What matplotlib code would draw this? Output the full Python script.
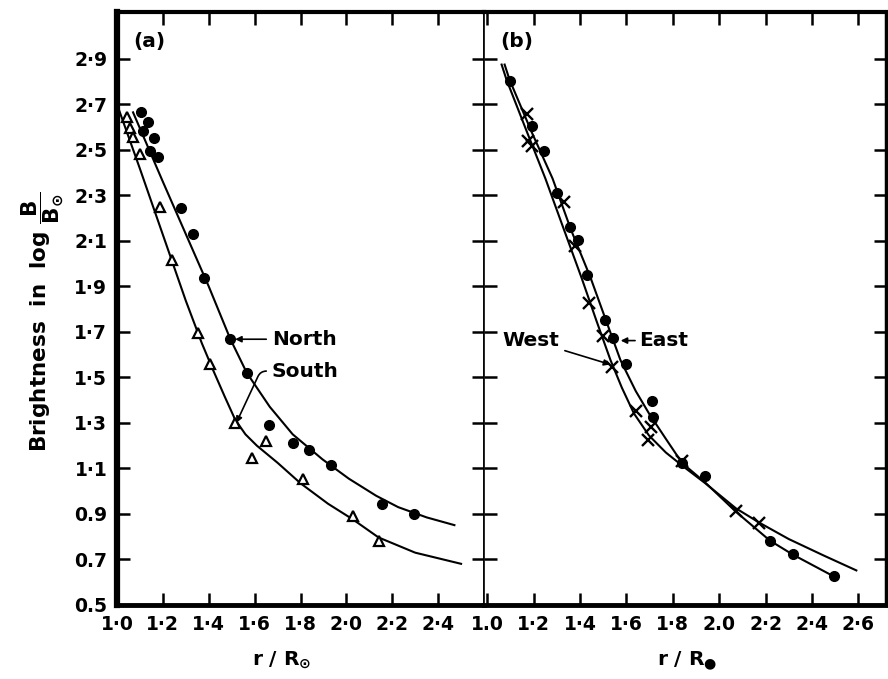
import matplotlib
matplotlib.use("Agg")
import matplotlib.pyplot as plt

plt.rcParams['font.family'] = ['DejaVu Sans']
plt.rcParams['font.weight'] = 'bold'
plt.rcParams['mathtext.fontset'] = 'dejavusans'
plt.rcParams['mathtext.default'] = 'bf'

# ---------------- data: panel (a) ----------------
north_x = [1.104, 1.137, 1.115, 1.161, 1.144, 1.180, 1.277, 1.332, 1.381,
           1.494, 1.566, 1.664, 1.767, 1.837, 1.935, 2.157, 2.294]
north_y = [2.665, 2.624, 2.582, 2.554, 2.493, 2.467, 2.243, 2.130, 1.938,
           1.669, 1.520, 1.292, 1.211, 1.183, 1.117, 0.943, 0.899]
south_x = [1.043, 1.056, 1.068, 1.100, 1.187, 1.239, 1.352, 1.407, 1.515,
           1.649, 1.587, 1.811, 2.027, 2.143]
south_y = [2.646, 2.595, 2.556, 2.483, 2.251, 2.018, 1.694, 1.560, 1.302,
           1.219, 1.146, 1.052, 0.892, 0.783]

north_fit_x = [1.070, 1.20, 1.30, 1.40, 1.494, 1.566, 1.666, 1.766, 1.896,
               2.011, 2.13, 2.226, 2.35, 2.471]
north_fit_y = [2.665, 2.36, 2.13, 1.90, 1.669, 1.52, 1.371, 1.25, 1.14,
               1.055, 0.98, 0.93, 0.885, 0.851]
south_fit_x = [1.01, 1.10, 1.20, 1.30, 1.37, 1.42, 1.47, 1.515, 1.56, 1.61,
               1.70, 1.80, 1.92, 2.03, 2.14, 2.30, 2.50]
south_fit_y = [2.672, 2.417, 2.127, 1.837, 1.65, 1.53, 1.415, 1.315, 1.25,
               1.20, 1.125, 1.035, 0.945, 0.875, 0.797, 0.73, 0.681]

# ---------------- data: panel (b) ----------------
east_x = [1.098, 1.192, 1.242, 1.300, 1.358, 1.391, 1.430, 1.506, 1.542,
          1.596, 1.709, 1.714, 1.840, 1.938, 2.219, 2.317, 2.494]
east_y = [2.803, 2.606, 2.497, 2.309, 2.159, 2.105, 1.952, 1.754, 1.672,
          1.558, 1.398, 1.328, 1.123, 1.069, 0.783, 0.722, 0.626]
west_x = [1.170, 1.177, 1.192, 1.329, 1.377, 1.437, 1.498, 1.538, 1.639,
          1.704, 1.694, 1.841, 2.072, 2.173]
west_y = [2.657, 2.541, 2.519, 2.272, 2.076, 1.829, 1.684, 1.546, 1.354,
          1.284, 1.223, 1.132, 0.911, 0.860]

west_fit_x = [1.061, 1.082, 1.17, 1.250, 1.33, 1.406, 1.47, 1.531, 1.58,
              1.632, 1.697, 1.77, 1.841, 1.94, 2.072, 2.173, 2.30, 2.45, 2.592]
west_fit_y = [2.875, 2.809, 2.58, 2.374, 2.15, 1.938, 1.75, 1.576, 1.455,
              1.342, 1.245, 1.17, 1.112, 1.035, 0.925, 0.862, 0.79, 0.718, 0.652]
east_fit_x = [1.074, 1.095, 1.19, 1.281, 1.36, 1.445, 1.51, 1.574, 1.64,
              1.697, 1.77, 1.840, 1.94, 2.072, 2.219, 2.317, 2.494]
east_fit_y = [2.875, 2.809, 2.58, 2.374, 2.15, 1.938, 1.755, 1.576, 1.44,
              1.342, 1.23, 1.124, 1.038, 0.91, 0.783, 0.722, 0.626]

yticks = [0.5, 0.7, 0.9, 1.1, 1.3, 1.5, 1.7, 1.9, 2.1, 2.3, 2.5, 2.7, 2.9]
ytick_labels = ['0.5', '0.7', '0.9', '1·1', '1·3', '1·5', '1·7', '1·9',
                '2·1', '2·3', '2·5', '2·7', '2·9']
xticks_a = [1.0, 1.2, 1.4, 1.6, 1.8, 2.0, 2.2, 2.4]
xtick_labels_a = ['1·0', '1·2', '1·4', '1·6', '1·8', '2·0', '2·2', '2·4']
xticks_b = [1.0, 1.2, 1.4, 1.6, 1.8, 2.0, 2.2, 2.4, 2.6]
xtick_labels_b = ['1.0', '1·2', '1·4', '1·6', '1·8', '2.0', '2·2', '2·4', '2·6']

# ---------------- figure ----------------
W, H = 888, 679
fig = plt.figure(figsize=(W / 100, H / 100), dpi=100)
left_a, mid, right_b = 117 / W, 484 / W, 886 / W
bottom, top = 1 - 605 / H, 1 - 12 / H
ax_a = fig.add_axes([left_a, bottom, mid - left_a, top - bottom])
ax_b = fig.add_axes([mid, bottom, right_b - mid, top - bottom])

YLIM = (0.521, 3.106)
lw_fit = 1.5
TICK_FS = 13.5
TXT_FS = 14.5

for ax in (ax_a, ax_b):
    ax.set_ylim(*YLIM)
    ax.set_yticks(yticks)
    ax.tick_params(axis='both', which='both', direction='in', length=9,
                   width=1.8, top=True, right=True, labelsize=TICK_FS,
                   pad=7, color='black')
    ax.spines['top'].set_linewidth(3)
    ax.spines['bottom'].set_linewidth(3.5)

ax_a.spines['left'].set_linewidth(4.5)
ax_a.spines['right'].set_linewidth(1.2)
ax_b.spines['left'].set_linewidth(1.2)
ax_b.spines['right'].set_linewidth(2.5)

# panel (a)
ax_a.set_xlim(1.0, 2.6)
ax_a.set_xticks(xticks_a)
ax_a.set_xticklabels(xtick_labels_a, fontweight='bold', fontsize=TICK_FS)
ax_a.set_yticklabels(ytick_labels, fontweight='bold', fontsize=TICK_FS)
ax_a.plot(north_fit_x, north_fit_y, color='black', lw=lw_fit)
ax_a.plot(south_fit_x, south_fit_y, color='black', lw=lw_fit)
ax_a.plot(north_x, north_y, 'o', color='black', ms=7, mec='black')
ax_a.plot(south_x, south_y, '^', mfc='white', mec='black', mew=1.6, ms=6.5)
ax_a.text(1.07, 2.975, '(a)', fontsize=TXT_FS, fontweight='bold', va='center')
ax_a.annotate('North', xy=(1.515, 1.668), xytext=(1.675, 1.668),
              fontsize=TXT_FS, fontweight='bold', va='center', ha='left',
              arrowprops=dict(arrowstyle='-|>', color='black', lw=1.2,
                              mutation_scale=9, shrinkB=0))
ax_a.annotate('South', xy=(1.52, 1.30), xytext=(1.675, 1.528),
              fontsize=TXT_FS, fontweight='bold', va='center', ha='left',
              arrowprops=dict(arrowstyle='-|>', color='black', lw=1.2,
                              mutation_scale=9, shrinkB=0,
                              connectionstyle='angle,angleA=0,angleB=65,rad=6'))
ax_a.set_xlabel(r'r / R$_{\odot}$', fontsize=TXT_FS, fontweight='bold')
ax_a.xaxis.set_label_coords(0.45, -0.075)
ax_a.xaxis.label.set_va('top')

fig.text(43 / W, 1 - 322 / H,
         r'Brightness  in  log $\dfrac{\mathbf{B}}{\mathbf{B}_{\odot}}$',
         rotation=90, ha='center', va='center', fontsize=15.5,
         fontweight='bold')

# panel (b)
ax_b.set_xlim(0.985, 2.72)
ax_b.set_xticks(xticks_b)
ax_b.set_xticklabels(xtick_labels_b, fontweight='bold', fontsize=TICK_FS)
ax_b.tick_params(axis='y', labelleft=False)
ax_b.plot(west_fit_x, west_fit_y, color='black', lw=lw_fit)
ax_b.plot(east_fit_x, east_fit_y, color='black', lw=lw_fit)
ax_b.plot(east_x, east_y, 'o', color='black', ms=7)
ax_b.plot(west_x, west_y, 'x', color='black', mew=1.7, ms=8)
ax_b.text(1.054, 2.975, '(b)', fontsize=TXT_FS, fontweight='bold', va='center')
ax_b.annotate('West', xy=(1.53, 1.557), xytext=(1.065, 1.663),
              fontsize=TXT_FS, fontweight='bold', va='center', ha='left',
              arrowprops=dict(arrowstyle='-|>', color='black', lw=1.2,
                              mutation_scale=9, shrinkA=2, shrinkB=0))
ax_b.annotate('East', xy=(1.575, 1.662), xytext=(1.655, 1.662),
              fontsize=TXT_FS, fontweight='bold', va='center', ha='left',
              arrowprops=dict(arrowstyle='-|>', color='black', lw=1.2,
                              mutation_scale=9, shrinkA=1, shrinkB=0))
ax_b.set_xlabel('r / R$_{●}$', fontsize=TXT_FS, fontweight='bold')
ax_b.xaxis.set_label_coords(0.505, -0.075)
ax_b.xaxis.label.set_va('top')

fig.savefig('out.png', dpi=100)
